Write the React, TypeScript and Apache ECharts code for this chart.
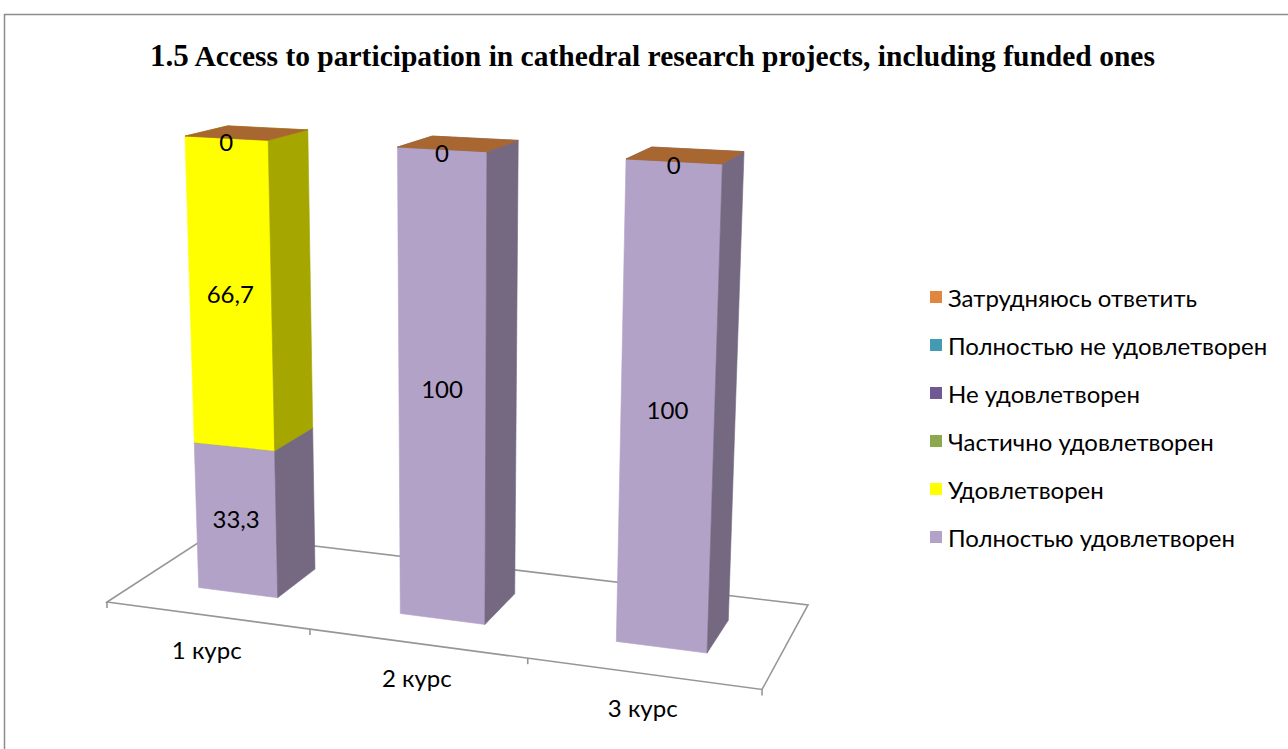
import React, { useEffect, useRef } from "react";
import * as echarts from "echarts";

// ---------- data ----------
const categories = ["1 курс", "2 курс", "3 курс"];
const seriesNames = [
  "Полностью удовлетворен",
  "Удовлетворен",
  "Частично удовлетворен",
  "Не удовлетворен",
  "Полностью не удовлетворен",
  "Затрудняюсь ответить",
];
const fullySatisfied: (number | null)[] = [33.3, 100, 100];
const satisfied: (number | null)[] = [66.7, null, null];
const partlySatisfied: (number | null)[] = [null, null, null];
const notSatisfied: (number | null)[] = [null, null, null];
const fullyNotSatisfied: (number | null)[] = [null, null, null];
const hardToSay: (number | null)[] = [0, 0, 0];
const seriesValues = [fullySatisfied, satisfied, partlySatisfied, notSatisfied, fullyNotSatisfied, hardToSay];
const valueMax = 100;

const titleNumber = "1.5";
const titleText = "Access to participation in cathedral research projects, including funded ones";

// ---------- styles ----------
const faceColors = ["#B3A2C7", "#FFFF00", "#9BBB59", "#8064A2", "#4BACC6", "#F79646"];
const legendColors = ["#B3A2C7", "#FFFF00", "#8EA84F", "#715A93", "#4499B3", "#E0873F"];
const SIDE_SHADE = 0.65;
const TOP_SHADE = 0.68;

// perspective camera: world (X = category units, Y = value units, Z = depth 0..1)
const CAM_X = [192.4, -0.2373, 127.66, 107];
const CAM_Y = [5.686, -4.685, -11.19, 602];
const CAM_W = [-0.03405, -0.0005268, 0.1069, 1];
const BAR_X0 = 0.3, BAR_X1 = 0.7, BAR_Z0 = 0.3, BAR_Z1 = 0.7;

function project(X: number, Y: number, Z: number): number[] {
  const w = CAM_W[0] * X + CAM_W[1] * Y + CAM_W[2] * Z + CAM_W[3];
  return [
    (CAM_X[0] * X + CAM_X[1] * Y + CAM_X[2] * Z + CAM_X[3]) / w,
    (CAM_Y[0] * X + CAM_Y[1] * Y + CAM_Y[2] * Z + CAM_Y[3]) / w,
  ];
}

function shade(hex: string, k: number): string {
  const n = parseInt(hex.slice(1), 16);
  const r = Math.round(((n >> 16) & 255) * k);
  const g = Math.round(((n >> 8) & 255) * k);
  const b = Math.round((n & 255) * k);
  return "rgb(" + r + "," + g + "," + b + ")";
}

function fmt(v: number): string {
  return String(v).replace(".", ",");
}

const FONT = "Lato, 'Open Sans', sans-serif";
const SERIF = "'Liberation Serif', 'Times New Roman', serif";

export default function App() {
  const ref = useRef<HTMLDivElement>(null);

  useEffect(() => {
    if (!ref.current) return;
    const chart = echarts.init(ref.current, undefined, { renderer: "svg" });

    const bases = categories.map(() => 0);
    const series: any[] = [];

    // floor + category labels
    series.push({
      type: "custom",
      name: "floor",
      silent: true,
      z: 1,
      data: [[0, 0]],
      renderItem: (params: any, api: any) => {
        const o = api.coord([0, 0]);
        const band = api.size([1, 0])[0];
        const toX = (px: number) => (px - o[0]) / band + 0.5;
        const n = categories.length;
        const Xl = toX(o[0] - band / 2);
        const Xr = Xl + n;
        const fl = project(Xl, 0, 0), fr = project(Xr, 0, 0);
        const bl = project(Xl, 0, 1), br = project(Xr, 0, 1);
        const lineStyle = { stroke: "#969696", lineWidth: 1.6, fill: "none" };
        const children: any[] = [
          { type: "polygon", shape: { points: [fl, fr, br, bl] }, style: { fill: "#fff", stroke: "#969696", lineWidth: 1.6 } },
        ];
        for (let k = 0; k <= n; k++) {
          const p = project(Xl + k, 0, 0);
          children.push({ type: "line", shape: { x1: p[0], y1: p[1], x2: p[0], y2: p[1] + 6 }, style: lineStyle });
        }
        categories.forEach((c, i) => {
          const pc = api.coord([i, 0]);
          const p = project(toX(pc[0]), 0, 0);
          children.push({
            type: "text",
            x: p[0],
            y: p[1] + 34,
            style: { text: c, fill: "#000", fontSize: 24, fontFamily: FONT, align: "center", verticalAlign: "middle" },
          });
        });
        return { type: "group", children };
      },
    });

    seriesNames.forEach((name, si) => {
      const vals = seriesValues[si];
      const data: any[] = [];
      vals.forEach((v, ci) => {
        if (v === null || v === undefined) return;
        data.push([ci, bases[ci], bases[ci] + v, v]);
        bases[ci] += v;
      });
      const base = faceColors[si];
      series.push({
        type: "custom",
        name,
        z: 2 + si,
        itemStyle: { color: legendColors[si] },
        data,
        renderItem: (params: any, api: any) => {
          const ci = api.value(0);
          const o = api.coord([0, 0]);
          const band = api.size([1, 0])[0];
          const pb = api.coord([ci, api.value(1)]);
          const pt = api.coord([ci, api.value(2)]);
          const unit = (o[1] - api.coord([0, valueMax])[1]) / valueMax;
          const Xc = (pb[0] - o[0]) / band + 0.5;
          const Y0 = (o[1] - pb[1]) / unit;
          const Y1 = (o[1] - pt[1]) / unit;
          const x0 = Xc - 0.5 + BAR_X0, x1 = Xc - 0.5 + BAR_X1;
          const front = [project(x0, Y0, BAR_Z0), project(x1, Y0, BAR_Z0), project(x1, Y1, BAR_Z0), project(x0, Y1, BAR_Z0)];
          const side = [project(x1, Y0, BAR_Z0), project(x1, Y0, BAR_Z1), project(x1, Y1, BAR_Z1), project(x1, Y1, BAR_Z0)];
          const top = [project(x0, Y1, BAR_Z0), project(x1, Y1, BAR_Z0), project(x1, Y1, BAR_Z1), project(x0, Y1, BAR_Z1)];
          const sideC = shade(base, SIDE_SHADE);
          const topC = shade(base, TOP_SHADE);
          const children: any[] = [];
          if (Y1 - Y0 > 0.001) {
            children.push({ type: "polygon", shape: { points: front }, style: { fill: base, stroke: base, lineWidth: 0.6 } });
            children.push({ type: "polygon", shape: { points: side }, style: { fill: sideC, stroke: sideC, lineWidth: 0.6 } });
          }
          children.push({ type: "polygon", shape: { points: top }, style: { fill: topC, stroke: topC, lineWidth: 0.6 } });
          const lp = project(Xc, (Y0 + Y1) / 2, BAR_Z0);
          const v = api.value(3);
          const isZero = v === 0;
          children.push({
            type: "text",
            x: lp[0],
            y: lp[1] + (isZero ? 3 : -2),
            z2: 10,
            style: {
              text: fmt(v),
              fill: "#000",
              fontSize: 24,
              fontFamily: FONT,
              align: "center",
              verticalAlign: "middle",
            },
          });
          return { type: "group", children };
        },
      });
    });

    chart.setOption({
      animation: false,
      title: {
        text: "{a|" + titleNumber + "}{b| " + titleText + "}",
        left: 145,
        top: 35,
        textStyle: {
          rich: {
            a: { fontFamily: SERIF, fontWeight: "bold", fontSize: 31, color: "#000" },
            b: { fontFamily: SERIF, fontWeight: "bold", fontSize: 29.5, color: "#000" },
          },
        },
      },
      grid: { left: 100, top: 100, width: 300, height: 300, show: false },
      xAxis: { type: "category", data: categories, show: false },
      yAxis: { type: "value", min: 0, max: valueMax, show: false },
      legend: {
        orient: "vertical",
        left: 925,
        top: 278,
        itemWidth: 12,
        itemHeight: 12,
        itemGap: 20,
        icon: "rect",
        selectedMode: false,
        data: seriesNames.slice().reverse(),
        textStyle: { fontFamily: FONT, fontSize: 24, color: "#000", lineHeight: 28, padding: [0, 0, 0, 1] },
      },
      graphic: [
        {
          type: "rect",
          shape: { x: 4.5, y: 14.5, width: 1320, height: 800 },
          style: { fill: "none", stroke: "#8c8c8c", lineWidth: 1.5 },
          silent: true,
          z: 0,
        },
      ],
      series,
    });

    return () => chart.dispose();
  }, []);

  return <div ref={ref} style={{ position: "fixed", left: 0, top: 0, width: 1288, height: 749, background: "#fff" }} />;
}
